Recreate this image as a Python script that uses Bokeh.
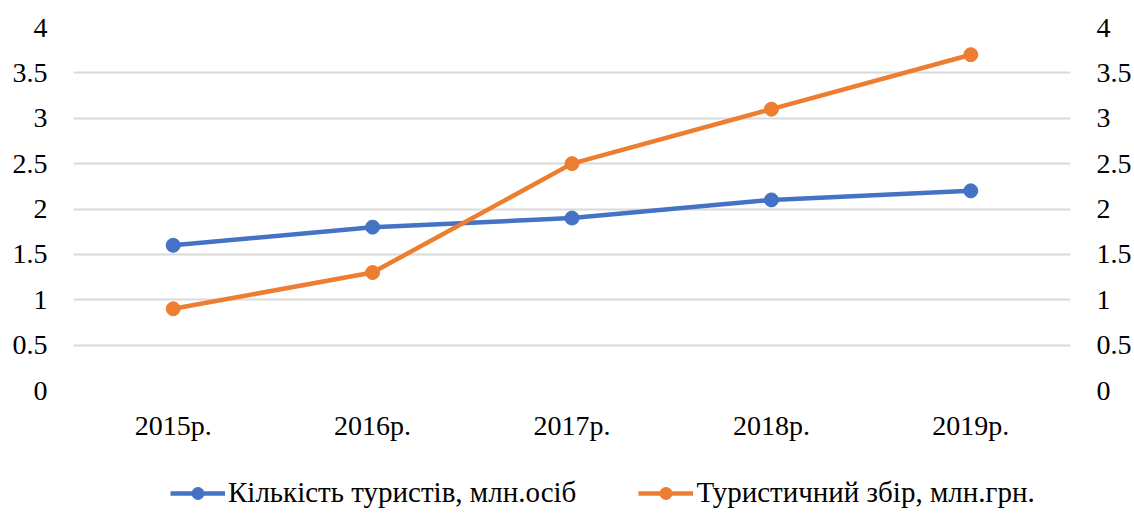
from bokeh.plotting import figure
from bokeh.models import (Range1d, FactorRange, LinearAxis, FixedTicker, Legend, LegendItem,
                          ColumnDataSource)
from bokeh.core.properties import value
from bokeh.embed import file_html
from bokeh.resources import INLINE

years = ["2015р.", "2016р.", "2017р.", "2018р.", "2019р."]
tourists = [1.6, 1.8, 1.9, 2.1, 2.2]
tax = [0.9, 1.3, 2.5, 3.1, 3.7]
y_ticks = [0, 0.5, 1, 1.5, 2, 2.5, 3, 3.5, 4]
grid_ticks = [0.5, 1, 1.5, 2, 2.5, 3, 3.5, 4]
name_tourists = "Кількість туристів, млн.осіб"
name_tax = "Туристичний збір, млн.грн."

BLUE = "#4472C4"
ORANGE = "#ED7D31"
FONT = "Liberation Serif"
FS = "28px"
LFS = "29px"

# layout (pixels)
W, H = 1134, 513
LEFT, RIGHT, TOP = 73, 64, 27
PLOT_H = 363                     # pixels from value 0 up to value 4
Y_MAX = 4.0
frame_h = H - TOP
y_min = -(frame_h - PLOT_H) * Y_MAX / PLOT_H   # room under 0 for category labels + legend

p = figure(x_range=FactorRange(factors=years), y_range=Range1d(y_min, Y_MAX),
           width=W, height=H, output_backend="svg", toolbar_location=None,
           x_axis_location=None,
           min_border_left=LEFT, min_border_right=RIGHT, min_border_top=TOP,
           min_border_bottom=0, outline_line_color=None)
p.extra_y_ranges = {"right": Range1d(y_min, Y_MAX)}

p.xgrid.visible = False
p.ygrid.ticker = FixedTicker(ticks=grid_ticks)
p.ygrid.grid_line_color = "#d9d9d9"
p.ygrid.grid_line_width = 2

p.yaxis[0].ticker = FixedTicker(ticks=y_ticks)
yr = LinearAxis(y_range_name="right", ticker=FixedTicker(ticks=y_ticks))
p.add_layout(yr, "right")

for ax in [p.yaxis[0], yr]:
    ax.major_label_standoff = 26
    ax.axis_line_color = None
    ax.major_tick_line_color = None
    ax.minor_tick_line_color = None
    ax.major_tick_out = 0
    ax.major_tick_in = 0
    ax.minor_tick_out = 0
    ax.minor_tick_in = 0
    ax.major_label_text_font = FONT
    ax.major_label_text_font_size = FS
    ax.major_label_text_color = "#000000"

# category labels under the zero level
cat_src = ColumnDataSource(dict(x=years, y=[0] * len(years), t=years))
p.text(x="x", y="y", text="t", source=cat_src, text_align="center",
       text_baseline="alphabetic", y_offset=35, text_font=value(FONT),
       text_font_size=value(FS), text_color="#000000")

l1 = p.line(years, tourists, line_color=BLUE, line_width=4.5)
s1 = p.scatter(years, tourists, size=14, fill_color=BLUE, line_color=BLUE)
l2 = p.line(years, tax, line_color=ORANGE, line_width=4.5, y_range_name="right")
s2 = p.scatter(years, tax, size=14, fill_color=ORANGE, line_color=ORANGE, y_range_name="right")

legend = Legend(items=[LegendItem(label=name_tourists, renderers=[l1, s1]),
                       LegendItem(label=name_tax, renderers=[l2, s2])],
                orientation="horizontal", location=(97, 4),
                label_text_font=FONT, label_text_font_size=LFS,
                label_text_color="#000000",
                glyph_width=55, glyph_height=30, label_height=30,
                label_standoff=3, spacing=62, padding=0, margin=0,
                border_line_color=None, background_fill_alpha=0)
p.add_layout(legend, "center")

open("out.html", "w").write(file_html(p, INLINE))
